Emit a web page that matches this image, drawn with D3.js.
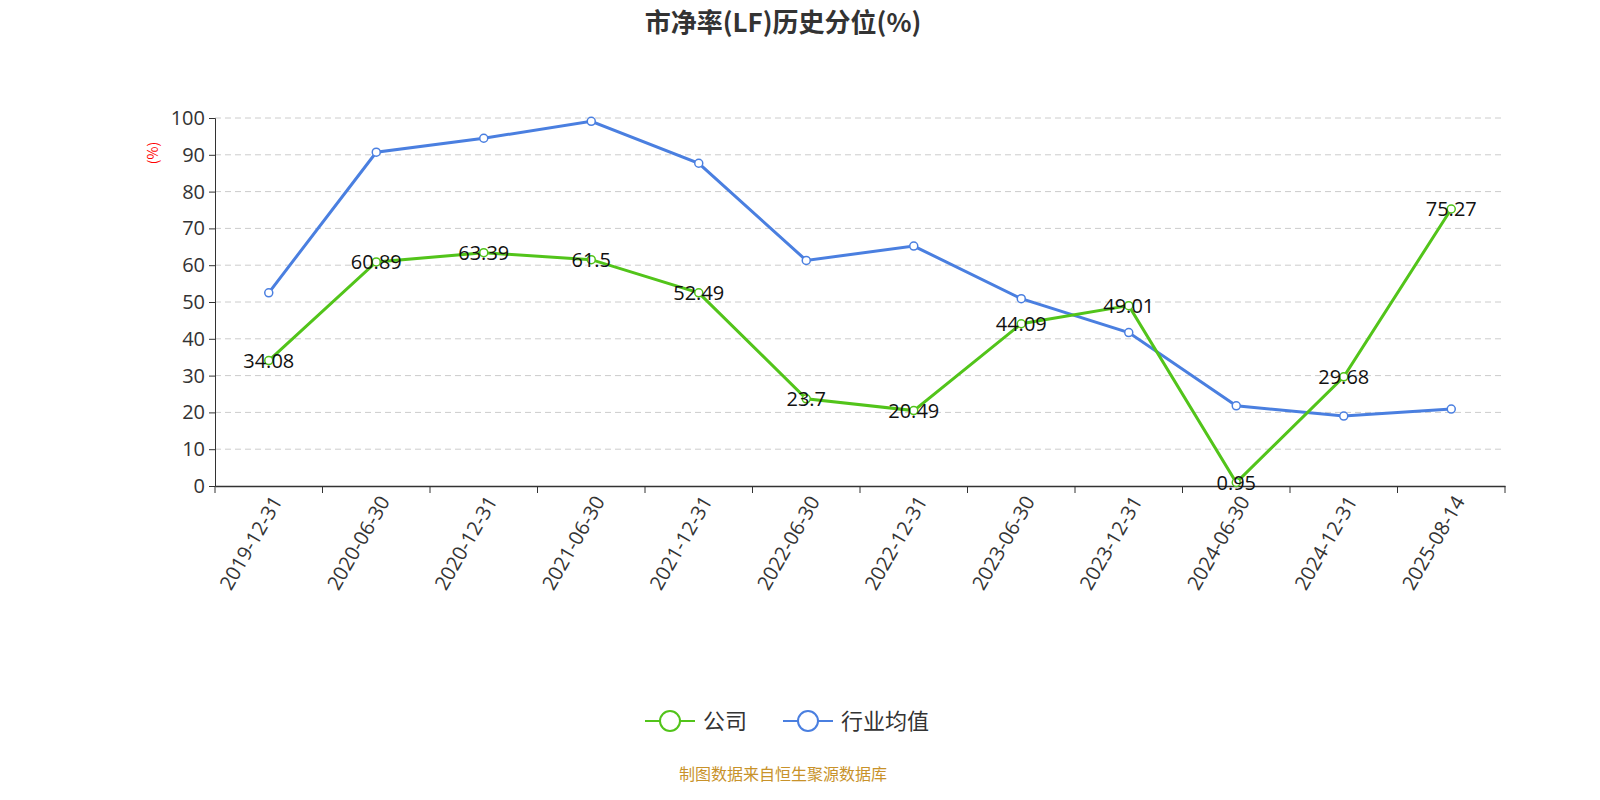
<!DOCTYPE html>
<html><head><meta charset="utf-8">
<script src="https://cdn.jsdelivr.net/npm/d3@7"></script>
<style>body{margin:0;background:#fff;font-family:"Noto Sans CJK SC","Open Sans",sans-serif;}</style>
</head><body><svg id="c" width="1600" height="800"></svg>
<script>
var dates = ["2019-12-31","2020-06-30","2020-12-31","2021-06-30","2021-12-31","2022-06-30","2022-12-31","2023-06-30","2023-12-31","2024-06-30","2024-12-31","2025-08-14"];
var company = [34.08,60.89,63.39,61.5,52.49,23.7,20.49,44.09,49.01,0.95,29.68,75.27];
var industry = [52.5,90.7,94.5,99.1,87.7,61.3,65.2,50.9,41.7,21.8,19.0,20.9];
var yTicks = [0,10,20,30,40,50,60,70,80,90,100];
var green = "#52c41a", blue = "#4a7fe0";

var svg = d3.select("#c");
var pLeft = 215, pRight = 1505, pTop = 118, pBottom = 486;
var x = d3.scaleBand().domain(dates).range([pLeft, pRight]);
var y = d3.scaleLinear().domain([0, 100]).range([pBottom, pTop]);
var cx = d => x(d) + x.bandwidth() / 2;

svg.append("text").attr("x", 783).attr("y", 32).attr("text-anchor", "middle")
  .attr("font-size", 26).attr("font-weight", "bold").attr("fill", "#333").text("市净率(LF)历史分位(%)");

// grid
svg.selectAll(".grid").data(yTicks.filter(t => t > 0)).join("line").attr("class", "grid")
  .attr("x1", pLeft).attr("x2", pRight).attr("y1", d => y(d)).attr("y2", d => y(d))
  .attr("stroke", "#ccc").attr("stroke-dasharray", "6,4");

var ya = svg.append("g").attr("transform", "translate(" + pLeft + ",0)")
  .call(d3.axisLeft(y).tickValues(yTicks).tickSize(6).tickPadding(4));
ya.selectAll("text").attr("font-size", 20).attr("fill", "#333").attr("font-family", "Open Sans");
ya.selectAll("line,path").attr("stroke", "#333");
svg.append("text").attr("transform", "translate(158,153) rotate(-90)").attr("text-anchor", "middle")
  .attr("font-size", 14).attr("fill", "red").text("(%)");

var xa = svg.append("g").attr("transform", "translate(0," + pBottom + ")")
  .call(d3.axisBottom(x).tickSize(0).tickPadding(10));
xa.selectAll("path").attr("stroke", "#333").attr("stroke-width", 1.5);
xa.selectAll("text").attr("font-size", 20).attr("fill", "#333").attr("font-family", "Open Sans")
  .attr("text-anchor", "end").attr("transform", "rotate(-60)").attr("dx", "-0.3em").attr("dy", "0.5em");
svg.selectAll(".xt").data(d3.range(dates.length + 1)).join("line").attr("class", "xt")
  .attr("x1", i => pLeft + i * x.bandwidth()).attr("x2", i => pLeft + i * x.bandwidth())
  .attr("y1", pBottom).attr("y2", pBottom + 7).attr("stroke", "#333");

function series(vals, col, labels) {
  var line = d3.line().x((d, i) => cx(dates[i])).y(d => y(d));
  svg.append("path").datum(vals).attr("d", line).attr("fill", "none").attr("stroke", col).attr("stroke-width", 3);
  svg.append("g").selectAll("circle").data(vals).join("circle").attr("cx", (d, i) => cx(dates[i])).attr("cy", d => y(d))
    .attr("r", 4).attr("fill", "#fff").attr("stroke", col).attr("stroke-width", 1.5);
  if (labels) svg.append("g").selectAll("text").data(vals).join("text").attr("x", (d, i) => cx(dates[i])).attr("y", d => y(d) + 7)
    .attr("text-anchor", "middle").attr("font-size", 20).attr("fill", "#111").attr("font-family", "Open Sans").text(d => d);
}
series(industry, blue, false);
series(company, green, true);

// legend
var leg = [["公司", green, 645], ["行业均值", blue, 783]];
leg.forEach(function (l) {
  var g = svg.append("g").attr("transform", "translate(" + l[2] + ",721)");
  g.append("line").attr("x1", 0).attr("x2", 50).attr("stroke", l[1]).attr("stroke-width", 2);
  g.append("circle").attr("cx", 25).attr("r", 10).attr("fill", "#fff").attr("stroke", l[1]).attr("stroke-width", 2);
  g.append("text").attr("x", 58).attr("y", 8).attr("font-size", 22).attr("fill", "#333").text(l[0]);
});
svg.append("text").attr("x", 783).attr("y", 780).attr("text-anchor", "middle").attr("font-size", 16)
  .attr("fill", "#c8922a").text("制图数据来自恒生聚源数据库");
</script></body></html>
